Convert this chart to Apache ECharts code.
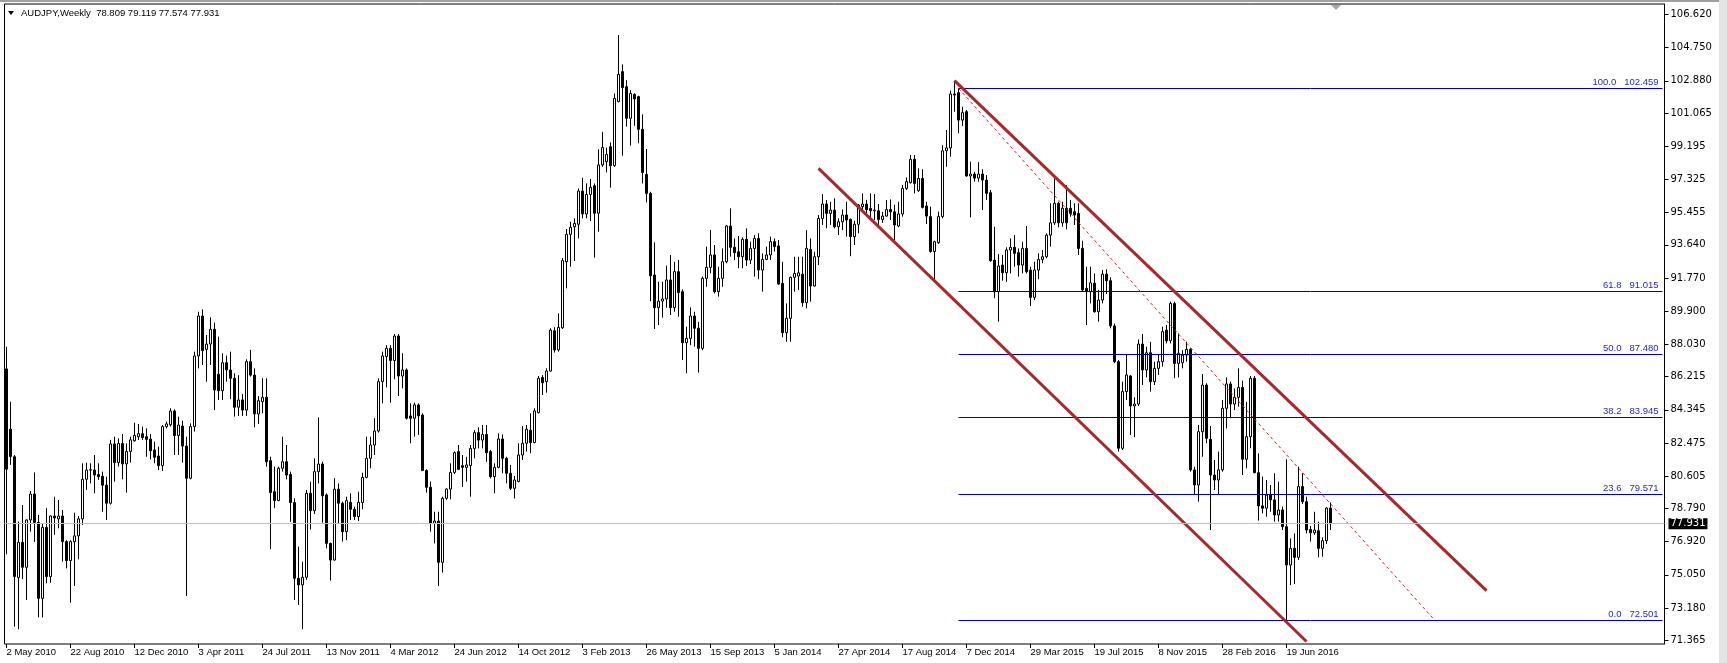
<!DOCTYPE html>
<html><head><meta charset="utf-8">
<script src="https://cdn.jsdelivr.net/npm/echarts@6/dist/echarts.min.js"></script>
<style>html,body{margin:0;padding:0;background:#fff;}#c{width:1727px;height:663px;}</style>
</head><body><div id="c"></div>
<script>
const headerText = 'AUDJPY,Weekly  78.809 79.119 77.574 77.931';
const xTickLabels = ['2 May 2010','22 Aug 2010','12 Dec 2010','3 Apr 2011','24 Jul 2011','13 Nov 2011','4 Mar 2012','24 Jun 2012','14 Oct 2012','3 Feb 2013','26 May 2013','15 Sep 2013','5 Jan 2014','27 Apr 2014','17 Aug 2014','7 Dec 2014','29 Mar 2015','19 Jul 2015','8 Nov 2015','28 Feb 2016','19 Jun 2016'];
const weeksPerLabel = 16;
const totalSlots = 415;
const yTickValues = [106.620,104.750,102.880,101.065,99.195,97.325,95.455,93.640,91.770,89.900,88.030,86.215,84.345,82.475,80.605,78.790,76.920,75.050,73.180,71.365];

const open = [
86.65,83.25,81.7,74.9,76.88,75.47,78.14,79.6,78.0,73.72,
77.72,74.95,78.36,78.2,78.36,76.92,75.85,76.92,77.24,78.2,
80.43,80.95,80.95,80.7,80.6,80.1,79.08,82.42,81.37,82.45,
81.3,82.0,82.6,82.83,83.0,82.83,82.7,82.08,81.74,81.2,
83.4,83.5,84.28,82.9,83.43,82.3,80.49,83.4,87.38,89.63,
87.75,88.05,88.88,86.35,85.42,87.0,86.59,86.12,84.49,84.9,
84.33,87.06,86.3,84.11,84.8,85.05,81.48,79.73,79.23,81.05,
81.42,80.7,79.12,74.85,74.48,74.91,79.64,78.66,80.86,81.29,
79.55,76.82,75.88,79.87,79.08,77.48,79.13,78.74,78.33,79.12,
80.54,81.61,82.36,83.15,85.93,87.35,87.81,87.12,88.5,86.25,
86.59,84.0,83.87,84.62,84.05,80.92,79.98,77.95,78.08,75.75,
79.36,79.88,80.82,81.99,81.2,81.1,81.2,82.17,83.06,82.64,
82.96,81.99,80.58,81.1,82.7,81.61,80.77,79.92,80.3,81.8,
82.46,83.2,82.5,84.18,86.17,85.93,86.53,88.8,87.72,88.97,
92.69,94.23,94.66,94.8,96.67,95.38,96.48,96.97,95.42,98.14,
98.33,99.17,98.1,101.71,103.4,102.55,100.77,102.12,101.99,100.15,
97.61,96.54,91.94,90.1,90.47,90.59,91.66,90.1,92.13,91.0,
88.13,88.37,89.63,88.94,87.81,91.75,92.37,93.07,91.0,91.75,
92.69,94.7,93.5,93.25,92.97,93.95,92.78,93.44,94.0,92.22,
92.82,93.07,93.82,93.58,91.47,88.69,89.5,91.81,91.88,91.99,
90.38,93.38,91.32,92.97,95.13,95.94,95.41,95.6,94.66,94.94,
95.32,95.07,94.1,94.8,95.79,95.94,95.69,95.56,95.56,95.07,
95.26,95.63,95.5,94.7,95.38,96.82,97.14,98.46,96.69,97.38,
95.83,95.23,93.26,93.76,95.23,98.94,99.1,102.14,102.21,100.67,
101.14,97.52,97.63,97.4,97.63,97.29,96.58,92.78,91.0,92.5,
92.07,93.35,93.5,93.2,92.5,93.44,92.22,90.68,92.22,92.82,
92.97,94.19,94.88,95.98,94.88,95.7,95.7,95.51,95.41,93.44,
91.19,91.0,91.47,89.87,90.53,91.99,91.62,89.07,87.06,82.18,
85.37,86.25,84.56,84.67,88.05,86.59,87.56,85.93,86.68,87.06,
88.84,88.24,90.34,86.96,87.0,87.43,87.75,80.96,80.11,83.11,
85.74,82.68,80.67,80.39,80.96,84.43,85.8,84.67,85.05,85.61,
81.56,82.83,86.12,80.8,78.93,78.8,79.54,79.27,78.42,78.7,
77.76,75.6,76.54,76.03,80.02,79.17,77.6,77.42,77.53,76.54,
76.97,78.809];
const high = [
87.9,84.8,81.8,78.05,78.98,78.17,79.77,80.82,78.42,77.95,
78.8,78.4,79.45,79.26,78.7,77.0,77.0,78.55,78.36,81.33,
81.37,81.33,81.8,81.33,80.86,80.58,82.65,82.83,82.74,82.98,
82.45,82.83,83.62,83.55,83.4,83.3,82.98,82.55,82.27,83.49,
83.68,84.43,84.37,83.96,83.73,82.83,83.58,87.62,89.87,90.0,
88.56,89.56,89.26,88.47,87.53,87.4,87.62,86.4,86.3,85.24,
87.19,87.72,86.68,85.12,86.12,86.12,81.7,81.14,81.14,82.83,
82.36,80.86,79.36,76.64,75.79,79.83,80.3,81.61,83.92,81.42,
79.64,76.86,80.49,80.2,79.17,79.45,79.64,78.89,79.73,80.8,
82.83,82.83,83.87,86.12,87.62,87.99,87.99,88.62,88.62,87.53,
86.68,84.71,84.75,84.71,84.15,80.99,80.3,78.6,78.6,79.45,
79.92,81.33,82.0,82.36,81.8,81.7,82.36,83.2,83.36,83.49,
83.49,82.08,81.33,83.02,82.96,81.7,81.24,80.62,82.46,83.43,
83.49,84.15,84.43,86.25,86.3,86.68,88.94,89.0,89.78,92.9,
94.53,94.94,95.13,96.82,97.42,97.1,97.35,97.1,99.02,100.01,
99.12,99.41,102.17,105.46,103.81,102.92,102.36,102.17,102.04,100.99,
99.04,96.63,93.78,91.56,91.56,92.47,93.07,92.69,92.79,91.13,
89.03,90.12,89.87,89.3,91.85,93.54,94.48,93.63,92.41,93.44,
94.76,95.7,94.0,94.14,94.06,94.57,93.82,94.19,94.29,93.16,
93.54,94.1,94.0,93.91,92.69,90.34,91.85,92.97,92.97,92.97,
94.47,94.0,93.25,95.32,96.5,96.17,96.07,96.26,95.13,95.63,
96.07,95.13,95.0,95.94,96.54,96.17,96.54,96.5,95.94,95.5,
96.17,96.2,95.9,96.07,97.01,97.44,98.7,98.7,97.95,97.9,
96.07,95.79,93.87,95.51,99.26,100.11,102.33,102.89,102.46,101.42,
101.24,98.33,97.76,98.3,97.9,97.57,96.73,94.66,93.12,93.07,
93.5,94.0,94.19,93.44,93.82,94.7,92.41,92.69,93.16,93.35,
94.29,95.98,97.38,96.07,96.07,97.01,96.17,95.98,95.98,93.87,
92.41,92.41,92.03,91.1,92.22,92.26,91.81,89.2,87.15,85.93,
87.43,86.31,85.05,88.31,88.62,87.9,88.18,87.06,87.43,89.03,
89.12,90.44,90.44,88.65,87.71,88.18,87.81,81.14,83.49,86.36,
85.84,83.43,81.52,81.99,84.9,86.17,85.93,85.55,86.68,85.99,
84.8,86.25,86.25,81.89,80.58,80.39,80.11,80.77,80.3,78.89,
81.56,77.1,77.38,81.14,80.77,79.45,77.8,78.6,78.04,77.16,
78.85,79.119];
const low = [
76.2,81.24,72.13,71.98,74.8,73.63,77.48,76.9,72.65,72.65,
74.57,74.6,77.3,77.67,75.79,75.41,73.48,74.42,75.92,77.86,
79.83,80.2,79.64,80.4,78.6,78.14,79.0,80.3,81.15,80.43,
79.68,81.37,82.55,82.65,82.65,81.7,81.55,81.33,80.95,80.9,
83.3,83.4,81.8,81.8,81.37,73.86,80.43,83.12,86.68,86.87,
85.93,86.87,84.33,84.9,84.9,85.93,84.94,83.96,84.0,84.0,
84.0,86.21,83.36,83.55,84.15,81.14,76.49,78.8,79.2,80.86,
80.43,78.04,73.63,73.35,71.98,74.76,77.6,78.48,80.2,77.99,
76.54,74.72,75.85,77.95,76.92,77.0,78.14,78.14,78.08,78.74,
80.49,81.05,81.8,83.06,84.71,85.61,84.75,86.06,85.12,85.55,
83.8,82.46,82.83,82.93,80.9,79.68,77.48,76.82,74.42,75.17,
79.27,79.3,80.73,80.95,80.0,80.3,79.45,81.61,82.17,82.17,
81.42,80.48,79.64,81.05,80.77,80.2,79.83,79.35,80.26,81.52,
81.99,81.9,82.46,84.15,85.18,85.31,86.5,87.57,87.62,88.9,
91.19,92.41,92.73,94.0,95.13,95.13,94.98,92.92,94.38,98.04,
97.72,96.86,98.04,101.67,98.66,100.3,99.23,100.35,99.36,97.1,
96.03,90.47,88.9,89.12,89.54,90.1,89.69,89.87,89.59,87.15,
86.4,87.99,87.9,86.44,87.7,91.28,92.03,90.9,90.72,91.28,
92.6,92.97,92.78,92.32,92.32,92.45,92.56,91.85,91.7,91.0,
92.78,92.78,93.26,91.38,88.43,88.18,88.18,91.0,91.1,90.15,
90.06,90.44,91.28,92.5,94.76,94.57,94.76,94.57,94.19,94.47,
94.1,93.0,93.63,94.29,95.6,95.41,95.2,95.04,94.76,94.88,
95.23,95.04,93.9,94.63,95.23,96.73,97.1,96.54,96.63,95.69,
94.81,93.2,91.66,93.7,95.13,98.04,98.6,101.14,99.92,100.33,
97.48,95.19,97.2,97.2,95.6,96.17,92.69,90.63,89.31,91.62,
91.56,92.03,92.41,91.85,92.03,92.03,90.19,90.53,91.7,92.6,
92.88,93.54,94.76,94.63,94.66,94.51,95.23,94.76,93.07,91.0,
89.12,90.34,89.82,89.31,90.34,90.87,88.94,86.97,81.99,82.08,
84.9,82.93,82.8,84.56,85.74,86.17,85.37,85.74,86.31,86.78,
88.09,88.09,86.12,86.17,86.68,87.06,80.86,79.55,79.17,81.7,
82.46,77.57,79.83,79.54,80.86,83.3,83.87,84.33,84.52,80.67,
81.05,82.18,80.77,78.1,78.51,78.32,78.6,78.04,78.04,77.57,
72.5,74.47,74.53,75.88,79.04,77.38,76.92,77.3,76.03,76.07,
76.78,77.574];
const close = [
81.0,81.71,74.95,76.88,75.47,78.14,79.6,78.0,73.72,77.72,
74.95,78.36,78.25,78.36,76.92,75.85,76.92,77.24,78.2,80.43,
80.95,80.97,80.67,80.58,80.1,79.08,82.42,81.37,82.45,81.3,
82.0,82.65,82.9,83.0,82.78,82.68,82.04,81.67,81.2,83.4,
83.55,84.28,82.9,83.49,82.3,80.49,83.4,87.38,89.63,87.68,
88.05,88.88,85.46,85.42,87.0,86.6,86.12,84.49,84.9,84.33,
87.06,86.3,84.11,84.86,85.05,81.42,79.68,79.23,81.05,81.42,
80.67,79.12,74.85,74.48,74.91,79.64,78.66,80.86,81.29,79.5,
76.82,75.88,79.87,79.08,77.48,79.23,78.74,78.33,79.13,80.54,
81.61,82.36,83.15,85.93,87.38,87.81,87.12,88.5,86.25,86.59,
83.87,83.87,84.62,84.0,80.92,79.98,77.95,78.08,75.75,79.36,
79.88,80.82,81.93,80.99,81.1,81.24,82.17,83.06,82.64,82.96,
81.93,80.58,81.1,82.7,81.61,80.77,79.92,80.39,81.8,82.46,
83.25,82.5,84.28,86.12,85.87,86.53,88.84,87.72,88.99,92.75,
94.23,94.63,94.85,96.67,95.38,96.48,96.88,95.42,98.14,99.12,
98.74,98.1,101.89,103.25,102.5,100.77,102.17,101.86,100.15,97.72,
96.54,91.9,90.1,90.47,90.59,91.66,90.1,92.13,90.95,88.13,
88.37,89.63,88.94,87.81,91.75,92.37,93.07,91.0,91.75,92.69,
94.7,93.5,93.2,92.97,93.95,92.78,93.44,94.0,92.22,92.82,
93.07,93.82,93.54,91.43,88.69,89.5,91.81,92.03,92.06,90.38,
93.44,91.32,92.97,95.13,95.94,95.41,95.6,94.66,94.94,95.32,
95.04,94.1,94.8,95.88,95.94,95.63,95.56,95.6,95.07,95.26,
95.63,95.5,94.76,95.38,96.82,97.2,98.46,97.1,97.38,95.75,
95.26,93.26,93.82,95.23,98.94,99.1,102.14,102.08,100.67,101.09,
97.52,97.63,97.4,97.63,97.29,96.54,92.75,91.0,92.45,92.07,
93.35,93.5,93.16,92.5,93.44,92.13,90.68,92.22,92.82,92.97,
94.19,94.88,95.98,94.88,95.7,94.88,95.41,95.32,93.44,91.1,
91.0,91.5,89.87,90.53,91.99,91.62,89.07,87.06,82.18,85.37,
86.31,84.56,84.67,88.05,86.59,87.56,85.93,86.68,87.06,88.75,
88.24,90.34,86.96,87.53,87.43,87.75,80.96,80.11,83.11,85.74,
82.74,80.67,80.39,80.96,84.43,85.8,84.67,85.05,85.61,81.56,
82.83,86.12,80.8,78.93,78.8,79.54,79.27,78.42,78.7,77.76,
75.6,76.54,76.03,80.02,79.17,77.57,77.42,77.57,76.54,76.97,
78.81,77.931];

const fibLevels = ['100.0','61.8','50.0','38.2','23.6','0.0'];
const fibPrices = [102.459, 91.015, 87.480, 83.945, 79.571, 72.501];
const fibStartBar = 238;
const fibEndBar = 414;
const channelUpper = [[237, 102.89], [370, 74.16]];
const channelLower = [[203, 97.95], [325, 71.29]];
const fibTrend = [[238, 102.459], [357, 72.501]];
const currentPrice = 77.931;

const categories = Array.from({length: totalSlots}, (_, i) => String(i));
const candles = open.map((o, i) => [o, close[i], low[i], high[i]]);

const showTick = (i) => i % weeksPerLabel === 0 && i / weeksPerLabel < xTickLabels.length;

const markData = [];
fibPrices.forEach((p, i) => {
  markData.push([
    {coord: [fibStartBar, p],
     lineStyle: {color: '#0000a8', width: 1, type: 'solid'},
     label: {show: true, position: 'insideEndTop', distance: [4, 1],
       formatter: fibLevels[i] + '   ' + p.toFixed(3),
       color: '#2828c0', fontSize: 9.5, fontFamily: 'Liberation Sans'}},
    {coord: [fibEndBar, p]}
  ]);
});
markData.push([
  {coord: channelUpper[0], lineStyle: {color: '#a52a2a', width: 3, type: 'solid'}, label: {show: false}},
  {coord: channelUpper[1]}
]);
markData.push([
  {coord: channelLower[0], lineStyle: {color: '#a52a2a', width: 3, type: 'solid'}, label: {show: false}},
  {coord: channelLower[1]}
]);
markData.push([
  {coord: fibTrend[0], lineStyle: {color: '#d02020', width: 1, type: [3, 3]}, label: {show: false}},
  {coord: fibTrend[1]}
]);
markData.push({
  yAxis: currentPrice,
  lineStyle: {color: '#c0c0c0', width: 1, type: 'solid'},
  label: {show: true, position: 'end', distance: 4, formatter: currentPrice.toFixed(3),
    backgroundColor: '#000', color: '#fff', padding: [1, 2, 0, 2],
    fontSize: 10, fontFamily: 'DejaVu Sans'}
});

const chart = echarts.init(document.getElementById('c'), null, {renderer: 'canvas'});
chart.setOption({
  animation: false,
  backgroundColor: '#fff',
  grid: {left: 4.5, right: 62.5, top: 4, bottom: 19, show: true, borderColor: '#000', borderWidth: 1, backgroundColor: '#fff'},
  xAxis: {
    type: 'category', data: categories, boundaryGap: true,
    axisLine: {show: false},
    axisTick: {show: true, interval: showTick, alignWithLabel: true, length: 4, lineStyle: {color: '#000'}},
    axisLabel: {interval: showTick, align: 'left', margin: 3,
      formatter: (v, i) => xTickLabels[i / weeksPerLabel] || '',
      fontFamily: 'Liberation Sans', fontSize: 9.5, color: '#000'},
    splitLine: {show: false}
  },
  yAxis: {
    type: 'value', position: 'right', min: 71.15, max: 107.21,
    splitLine: {show: false},
    axisLine: {show: true, lineStyle: {color: '#000'}},
    axisTick: {show: true, customValues: yTickValues, length: 4, lineStyle: {color: '#000'}},
    axisLabel: {customValues: yTickValues, formatter: v => v.toFixed(3), margin: 6,
      fontFamily: 'DejaVu Sans', fontSize: 10, color: '#000'}
  },
  series: [{
    type: 'candlestick',
    data: candles,
    barWidth: 2.5,
    itemStyle: {color: '#fff', color0: '#000', borderColor: '#000', borderColor0: '#000', borderWidth: 1},
    markLine: {silent: true, symbol: ['none', 'none'], animation: false, data: markData}
  }],
  graphic: [
    {type: 'rect', shape: {x: 0, y: 0, width: 1727, height: 2}, style: {fill: '#a0a0a0'}},
    {type: 'rect', shape: {x: 1719, y: 0, width: 8, height: 663}, style: {fill: '#e4e4e4'}},
    {type: 'polygon', shape: {points: [[8, 11], [14, 11], [11, 15]]}, style: {fill: '#000'}},
    {type: 'text', x: 21, y: 13, style: {text: headerText, fontSize: 9.5, fontFamily: 'Liberation Sans', fill: '#000', verticalAlign: 'middle'}},
    {type: 'polygon', shape: {points: [[1331, 5], [1341, 5], [1336, 10]]}, style: {fill: '#a8a8a8'}}
  ]
});
</script></body></html>
